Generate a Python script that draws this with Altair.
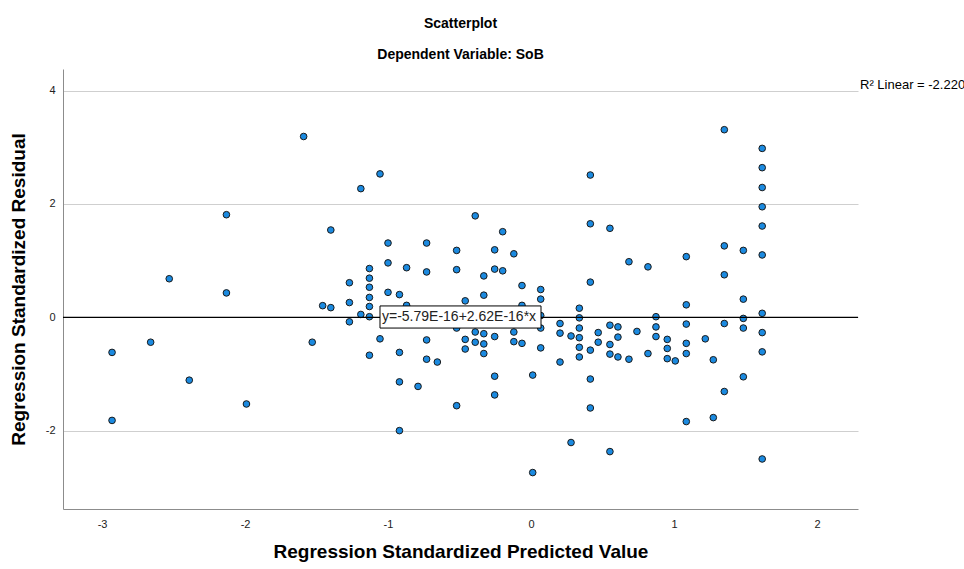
import altair as alt
import pandas as pd

# Regression standardized predicted value (x) and residual (y)
pred = [-2.93, -2.93, -2.66, -2.53, -2.39, -2.13, -2.13, -1.99, -1.59, -1.53,
        -1.457, -1.40, -1.40, -1.27, -1.27, -1.27, -1.19, -1.19, -1.13, -1.13,
        -1.13, -1.13, -1.13, -1.13, -1.13, -1.056, -1.056, -1.0, -1.0, -1.0,
        -0.92, -0.92, -0.92, -0.92, -0.87, -0.87, -0.79, -0.73, -0.73, -0.73,
        -0.73, -0.655, -0.52, -0.52, -0.52, -0.52, -0.46, -0.46, -0.46, -0.39,
        -0.39, -0.39, -0.33, -0.33, -0.33, -0.33, -0.33, -0.254, -0.254, -0.254,
        -0.254, -0.254, -0.198, -0.198, -0.12, -0.12, -0.12, -0.063, -0.063, -0.063,
        0.012, 0.012, 0.068, 0.068, 0.068, 0.068, 0.068,
        0.203, 0.203, 0.203, 0.28, 0.28, 0.338, 0.338, 0.338, 0.338, 0.338,
        0.338, 0.415, 0.415, 0.415, 0.415, 0.415, 0.415, 0.47, 0.47, 0.552,
        0.552, 0.552, 0.552, 0.552, 0.608, 0.608, 0.608, 0.685, 0.685, 0.741,
        0.818, 0.818, 0.874, 0.874, 0.874, 0.953, 0.953, 0.953, 1.009, 1.086,
        1.086, 1.086, 1.086, 1.086, 1.086, 1.219, 1.275, 1.275, 1.352, 1.352,
        1.352, 1.352, 1.352, 1.485, 1.485, 1.485, 1.485, 1.485, 1.617, 1.617,
        1.617, 1.617, 1.617, 1.617, 1.617, 1.617, 1.617, 1.617]
resid = [-0.62, -1.82, -0.44, 0.68, -1.11, 1.81, 0.43, -1.53, 3.19, -0.44,
         0.205, 1.54, 0.17, 0.61, 0.26, -0.08, 2.27, 0.05, 0.86, 0.69,
         0.53, 0.35, 0.19, 0.01, -0.67, 2.53, -0.38, 1.31, 0.96, 0.44,
         0.40, -0.62, -1.14, -2.0, 0.875, 0.21, -1.22, 1.31, 0.80, -0.40,
         -0.74, -0.79, 1.18, 0.84, -0.19, -1.56, 0.29, -0.39, -0.56, 1.79,
         -0.26, -0.44, 0.73, 0.39, -0.29, -0.47, -0.64, 1.19, 0.85, -0.34,
         -1.04, -1.37, 1.51, 0.82, 1.12, -0.26, -0.43, 0.56, 0.21, -0.46,
         -1.02, -2.74, 0.49, 0.32, 0.03, -0.19, -0.54,
         -0.11, -0.28, -0.79, -0.33, -2.21, 0.16, -0.01, -0.19, -0.36, -0.53,
         -0.70, 2.51, 1.65, 0.62, -0.58, -1.09, -1.60, -0.27, -0.44, 1.57,
         -0.14, -0.48, -0.65, -2.37, -0.17, -0.35, -0.70, 0.98, -0.74, -0.25,
         0.89, -0.64, 0.01, -0.17, -0.34, -0.39, -0.55, -0.73, -0.77, 1.07,
         0.22, -0.12, -0.46, -0.64, -1.84, -0.38, -0.75, -1.77, 3.31, 1.26,
         0.75, -0.11, -1.31, 1.18, 0.32, -0.02, -0.19, -1.05, 2.98, 2.64,
         2.29, 1.95, 1.61, 1.10, 0.07, -0.27, -0.61, -2.50]

x_ticks = [-3, -2, -1, 0, 1, 2]
y_ticks = [-2, 0, 2, 4]
x_domain = [-3.273, 2.287]
y_domain = [-3.383, 4.381]

fit_intercept = -5.79e-16
fit_slope = 2.62e-16
fit_label = "y=-5.79E-16+2.62E-16*x"
r2_label = "R\u00b2 Linear = -2.220E-16"
label_x = [-1.056, 0.07]   # label box extent (data units)
label_y = [-0.19, 0.2]

FONT = "Liberation Sans"

df = pd.DataFrame({"pred": pred, "resid": resid})

xs = alt.Scale(domain=x_domain, nice=False, zero=False)
ys = alt.Scale(domain=y_domain, nice=False, zero=False)

x_axis = alt.Axis(values=x_ticks, grid=False, ticks=False, domainColor="#8c8c8c",
                  labelFontSize=11, labelColor="#222222", labelFont=FONT, labelPadding=9,
                  labelExpr="'' + datum.value",
                  title="Regression Standardized Predicted Value", titleFont=FONT,
                  titleFontSize=19, titleFontWeight="bold", titleColor="#000000",
                  titlePadding=13)
y_axis = alt.Axis(values=y_ticks, grid=True, gridColor="#cfcfcf", gridWidth=1.2,
                  ticks=False, domainColor="#8c8c8c",
                  labelFontSize=11, labelColor="#222222", labelFont=FONT, labelPadding=8,
                  labelExpr="'' + datum.value",
                  title="Regression Standardized Residual", titleFont=FONT,
                  titleFontSize=19, titleFontWeight="bold", titleColor="#000000",
                  titlePadding=17)

points = alt.Chart(df).mark_point(
    shape="circle", filled=True, fill="#1b8ae0", stroke="#1a1a1a",
    strokeWidth=1, size=44, opacity=1
).encode(
    x=alt.X("pred:Q", scale=xs, axis=x_axis),
    y=alt.Y("resid:Q", scale=ys, axis=y_axis),
)

fit_df = pd.DataFrame({"x": x_domain,
                       "y": [fit_intercept + fit_slope * v for v in x_domain]})
fit = alt.Chart(fit_df).mark_line(color="#000000", strokeWidth=1.2, clip=True).encode(
    x=alt.X("x:Q", scale=xs), y=alt.Y("y:Q", scale=ys)
)

box_df = pd.DataFrame({"x": [label_x[0]], "x2": [label_x[1]],
                       "y": [label_y[0]], "y2": [label_y[1]],
                       "tx": [label_x[0]], "ty": [0.0], "t": [fit_label]})
box = alt.Chart(box_df).mark_rect(fill="white", stroke="#000000", strokeWidth=1).encode(
    x=alt.X("x:Q", scale=xs), x2="x2:Q", y=alt.Y("y:Q", scale=ys), y2="y2:Q"
)
box_text = alt.Chart(box_df).mark_text(
    align="left", baseline="middle", dx=2, font=FONT, fontSize=14, color="#222222"
).encode(x=alt.X("tx:Q", scale=xs), y=alt.Y("ty:Q", scale=ys), text="t:N")

r2 = alt.Chart(pd.DataFrame({"t": [r2_label]})).mark_text(
    align="left", baseline="middle", font=FONT, fontSize=13, color="#000000"
).encode(x=alt.value(797), y=alt.value(16), text="t:N")

chart = alt.layer(points, fit, box, box_text, r2).properties(
    width=795, height=440,
    background="white",
    title=alt.TitleParams(
        text="Scatterplot", subtitle="Dependent Variable: SoB",
        font=FONT, fontSize=14, fontWeight="bold", color="#000000",
        subtitleFont=FONT, subtitleFontSize=14, subtitleFontWeight="bold",
        subtitleColor="#000000", subtitlePadding=17, anchor="middle", offset=7
    ),
    autosize=alt.AutoSizeParams(type="none"),
    padding={"left": 63, "top": 69, "right": 106, "bottom": 60},
).configure_view(strokeWidth=0, stroke="transparent")

chart.save("out.html", embed_options={"renderer": "svg", "actions": False})
